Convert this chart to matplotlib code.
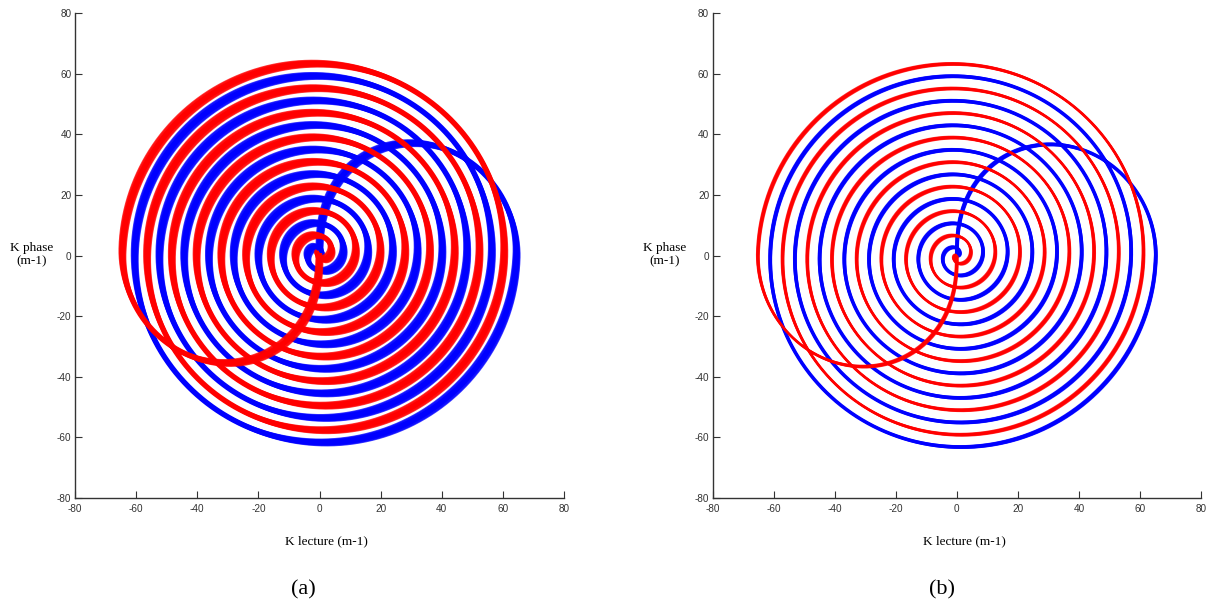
import numpy as np
import matplotlib
matplotlib.use("Agg")
import matplotlib.pyplot as plt

# ---- data (spiral k-space trajectories) ----
panel_labels = ["(a)", "(b)"]
outer_radius = [64.5, 65.2]        # radius where the fast arc meets the slow spiral (m-1)
pitch_per_turn = [8.1, 8.1]        # radial step of one interleaf per turn (m-1)
arc_exponent = [0.7, 0.7]          # shape of the fast outward arc, r = R*cos(theta)^k
center_offset_y = [0.8, 0.0]       # slight vertical shift of spiral centre
ticks = [-80, -60, -40, -20, 0, 20, 40, 60, 80]
x_label = "K lecture (m-1)"
y_label = "K phase\n(m-1)"

# ---- styles ----
band_spread = [1.45, 0.55]         # data units, half-width of band smear along anti-diagonal
core_lw_blue = [3.9, 2.6]
core_lw_red = [3.9, 2.0]
smear_lw = [1.2, 1.1]
n_copies = [13, 7]
BLUE = "#0000ff"
RED = "#ff0000"


def trajectory(R, pitch, k):
    th_arc = np.linspace(np.pi / 2, 0, 300)
    r_arc = R * np.cos(th_arc) ** k
    turns = R / pitch
    phi = np.linspace(0, -2 * np.pi * turns, 6000)
    r_slow = np.clip(R + pitch * phi / (2 * np.pi), 0, None)
    th = np.concatenate([th_arc, phi])
    r = np.concatenate([r_arc, r_slow])
    return r * np.cos(th), r * np.sin(th)


def draw_band(ax, x, y, color, core_lw, spread, lw, n, z):
    d = np.array([-1.0, 1.0]) / np.sqrt(2)
    ax.plot(x, y, color=color, lw=core_lw, solid_capstyle="butt", zorder=z)
    for t in np.linspace(-spread, spread, n):
        ax.plot(x + t * d[0], y + t * d[1], color=color, lw=lw, alpha=0.75,
                solid_capstyle="butt", zorder=z)


fig = plt.figure(figsize=(12.06, 6.03), dpi=100)
ax_boxes = [
    [75 / 1206, (603 - 498) / 603, 489 / 1206, 485 / 603],
    [712.7 / 1206, (603 - 498) / 603, 488.3 / 1206, 485 / 603],
]
xlab_x = [326 / 1206, 964 / 1206]
ylab_x = [32 / 1206, 665 / 1206]
plab_x = [303 / 1206, 942 / 1206]

for i in range(2):
    ax = fig.add_axes(ax_boxes[i])
    bx, by = trajectory(outer_radius[i], pitch_per_turn[i], arc_exponent[i])
    rx, ry = -bx, -by
    by = by + center_offset_y[i]
    ry = ry + center_offset_y[i]
    draw_band(ax, bx, by, BLUE, core_lw_blue[i], band_spread[i], smear_lw[i], n_copies[i], 2)
    draw_band(ax, rx, ry, RED, core_lw_red[i], band_spread[i], smear_lw[i], n_copies[i], 3)
    ax.set_xlim(-80, 80)
    ax.set_ylim(-80, 80)
    ax.set_xticks(ticks)
    ax.set_yticks(ticks)
    ax.set_xticklabels([str(v) for v in ticks])
    ax.set_yticklabels([str(v) for v in ticks])
    for s in ["top", "right"]:
        ax.spines[s].set_visible(False)
    for s in ["left", "bottom"]:
        ax.spines[s].set_color("#333333")
        ax.spines[s].set_linewidth(1.0)
    ax.tick_params(direction="in", length=5, width=0.8, color="#333333",
                   labelsize=7.2, labelcolor="#333333")
    ax.tick_params(axis="x", pad=4)
    ax.tick_params(axis="y", pad=2.5)
    for lab in ax.get_xticklabels() + ax.get_yticklabels():
        lab.set_family(["Liberation Sans Narrow", "Liberation Sans", "DejaVu Sans"])
    ax.patch.set_visible(False)

    fig.text(xlab_x[i], 1 - 541 / 603, x_label, ha="center", va="center",
             family="Liberation Serif", fontsize=9.5)
    fig.text(ylab_x[i], 1 - 255 / 603, y_label, ha="center", va="center",
             family="Liberation Serif", fontsize=9.5, linespacing=1.15)
    fig.text(plab_x[i], 1 - 590 / 603, panel_labels[i], ha="center", va="center",
             family="Liberation Serif", fontsize=16)

fig.savefig("out.png", dpi=100)
